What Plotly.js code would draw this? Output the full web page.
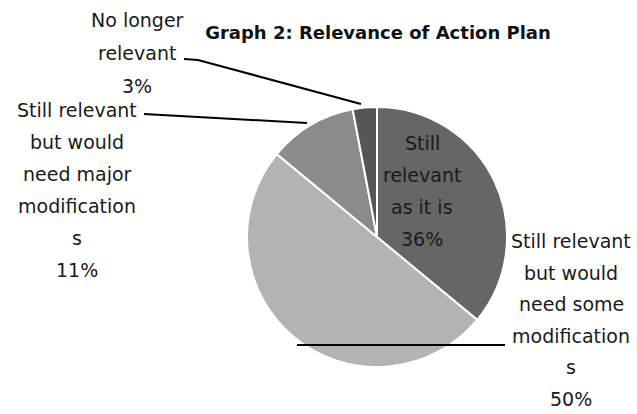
<!DOCTYPE html>
<html>
<head>
<meta charset="utf-8">
<script src="https://cdn.plot.ly/plotly-3.0.1.min.js"></script>
<style>html,body{margin:0;padding:0;background:#fff;}#chart{width:637px;height:414px;}</style>
</head>
<body>
<div id="chart"></div>
<script>
// ---- data ----
const categories = [
  'Still relevant as it is',
  'Still relevant but would need some modifications',
  'Still relevant but would need major modifications',
  'No longer relevant'
];
const values = [36, 50, 11, 3];
const labelLines = [
  ['Still', 'relevant', 'as it is'],
  ['Still relevant', 'but would', 'need some', 'modification', 's'],
  ['Still relevant', 'but would', 'need major', 'modification', 's'],
  ['No longer', 'relevant']
];
const titleText = 'Graph 2: Relevance of Action Plan';

// ---- styles / layout positions ----
const W = 637, H = 414;
const colors = ['#666666', '#b3b3b3', '#8b8b8b', '#565656'];
const labelPos = [
  {x: 422, y: 143, dy: 32},
  {x: 571, y: 241, dy: 31.6},
  {x: 77,  y: 110, dy: 32},
  {x: 137, y: 20,  dy: 33}
];
const FONT = 'DejaVu Sans, sans-serif';
const px = x => x / W;
const py = y => 1 - y / H;

const total = values.reduce((a, b) => a + b, 0);
const annotations = [];
values.forEach((v, i) => {
  const lines = labelLines[i].concat([Math.round(v / total * 100) + '%']);
  lines.forEach((t, j) => {
    annotations.push({
      xref: 'paper', yref: 'paper',
      x: px(labelPos[i].x), y: py(labelPos[i].y + j * labelPos[i].dy),
      xanchor: 'center', yanchor: 'middle',
      text: t, showarrow: false,
      font: {family: FONT, size: 19, color: '#1a1a1a'}
    });
  });
});

const cx = 377, cy = 237, r = 130;
const leader = (pts) => ({
  type: 'path', xref: 'paper', yref: 'paper',
  path: pts.map((p, k) => (k ? 'L' : 'M') + px(p[0]) + ',' + py(p[1])).join(' '),
  line: {color: '#000', width: 2}
});

const data = [{
  type: 'pie',
  labels: categories,
  values: values,
  sort: false,
  direction: 'clockwise',
  rotation: 0,
  textinfo: 'none',
  hoverinfo: 'label+percent',
  marker: {colors: colors, line: {color: '#ffffff', width: 2}},
  domain: {x: [px(cx - r), px(cx + r)], y: [py(cy + r), py(cy - r)]},
  showlegend: false
}];

const layout = {
  width: W, height: H,
  margin: {l: 0, r: 0, t: 0, b: 0},
  paper_bgcolor: '#ffffff',
  showlegend: false,
  title: {
    text: '<b>' + titleText + '</b>',
    x: px(378), xanchor: 'center', y: py(33), yanchor: 'middle',
    font: {family: FONT, size: 18, color: '#111111'}
  },
  annotations: annotations,
  shapes: [
    leader([[184, 59], [198, 60], [361, 104]]),
    leader([[144, 114], [307, 123]]),
    leader([[297, 345], [505, 345]])
  ]
};

Plotly.newPlot('chart', data, layout, {displayModeBar: false, staticPlot: true});
</script>
</body>
</html>
